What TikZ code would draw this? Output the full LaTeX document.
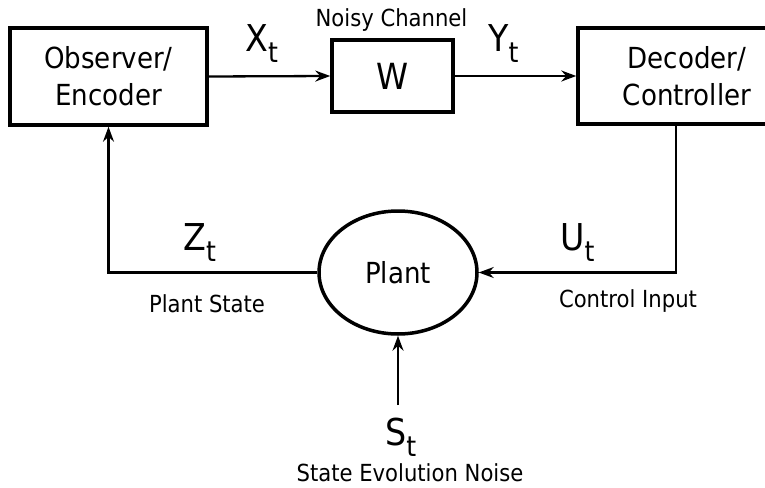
\documentclass[tikz,border=0pt]{standalone}
\usepackage{fontspec}
\setmainfont{DejaVu Sans}[FakeStretch=0.9]
\usepackage{tikz}
\usetikzlibrary{arrows.meta, positioning, shapes.geometric}
\newcommand{\sigvar}[1]{{\fontsize{37}{37}\selectfont #1}\raisebox{-11pt}{\fontsize{28}{28}\selectfont t}}

\begin{document}
\begin{tikzpicture}[x=1pt, y=-1pt,
  block/.style={draw, line width=3.5pt, inner sep=0pt, align=center, font=\fontsize{29}{37}\selectfont},
  tag/.style={font=\fontsize{23.5}{23.5}\selectfont, anchor=base, inner sep=0pt},
  sig/.style={anchor=base west, inner sep=0pt},
  link/.style={line width=2.3pt, -{Stealth[length=15pt, width=11pt, inset=5pt]}}]
  \clip (0,0) rectangle (765,487);
  % blocks
  \node[block, minimum width=197pt, minimum height=97pt] (obs) at (108.5,76.5) {Observer/\\Encoder};
  \node[block, minimum width=121pt, minimum height=72pt, font=\fontsize{36}{36}\selectfont] (chan) at (392.5,76) {W};
  \node[block, minimum width=218pt, minimum height=96pt] (dec) at (687,76) {Decoder/\\Controller};
  \node[block, ellipse, minimum width=158pt, minimum height=123pt] (plant) at (398,272.5) {Plant};
  % descriptions
  \node[tag] (chantag) at (391.5,27) {Noisy Channel};
  \node[tag] (statetag) at (207,312) {Plant State};
  \node[tag] (inputtag) at (628,307) {Control Input};
  \node[tag] (noisetag) at (410,481) {State Evolution Noise};
  % signals
  \node[sig] (xt) at (245,52) {\sigvar{X}};
  \node[sig] (yt) at (488,52) {\sigvar{Y}};
  \node[sig] (zt) at (183,250) {\sigvar{Z}};
  \node[sig] (ut) at (560,250) {\sigvar{U}};
  \node[sig] (st) at (385,445) {\sigvar{S}};
  \coordinate (decout) at ([xshift=-11pt]dec.south);
  \coordinate (noise) at (398,405);
  % connectors
  \draw[link] (obs.east) -- (chan.west);
  \draw[link] (chan.east) -- (dec.west);
  \draw[link] (decout) |- (plant.east);
  \draw[link] (plant.west) -| (obs.south);
  \draw[link] (noise) -- (plant.south);
\end{tikzpicture}
\end{document}
